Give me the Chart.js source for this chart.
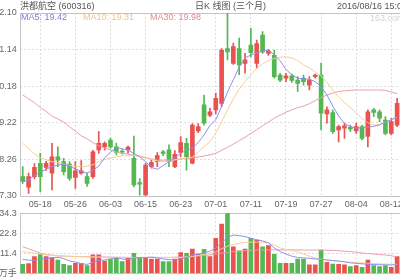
<!DOCTYPE html>
<html>
<head>
<meta charset="utf-8">
<script src="https://cdn.jsdelivr.net/npm/chart.js@4.4.1/dist/chart.umd.min.js"></script>
<style>
  body { margin: 0; width: 400px; height: 280px; overflow: hidden; position: relative; background: #fff;
         font-family: "Liberation Sans", Arial, "Noto Sans CJK SC", sans-serif; }
  canvas { position: absolute; left: -10px; }
  #price { top: 0; }
  #volume { top: 205px; }
  .txt { position: absolute; font-size: 9px; line-height: 11px; white-space: nowrap; color: #555; }
</style>
</head>
<body>
<canvas id="price" width="420" height="210"></canvas>
<canvas id="volume" width="420" height="75"></canvas>
<div class="txt" style="left:20px;top:1px">洪都航空 (600316)</div>
<div class="txt" style="left:195px;top:1px">日K 线图 (三个月)</div>
<div class="txt" style="left:337px;top:1px">2016/08/16 15:00</div>
<div class="txt" id="lg5" style="left:21px;top:12px"></div>
<div class="txt" id="lg10" style="left:83px;top:12px"></div>
<div class="txt" id="lg30" style="left:150px;top:12px"></div>
<div class="txt" style="left:370px;top:13px;color:#d4d4d4">163.com</div>
<script>
const dates = ['05-13', '05-16', '05-17', '05-18', '05-19', '05-20', '05-23', '05-24', '05-25', '05-26',
  '05-27', '05-30', '05-31', '06-01', '06-02', '06-03', '06-06', '06-07', '06-08', '06-13',
  '06-14', '06-15', '06-16', '06-17', '06-20', '06-21', '06-22', '06-23', '06-24', '06-27',
  '06-28', '06-29', '06-30', '07-01', '07-04', '07-05', '07-06', '07-07', '07-08', '07-11',
  '07-12', '07-13', '07-14', '07-15', '07-18', '07-19', '07-20', '07-21', '07-22', '07-25',
  '07-26', '07-27', '07-28', '07-29', '08-01', '08-02', '08-03', '08-04', '08-05', '08-08',
  '08-09', '08-10', '08-11', '08-12', '08-15'];

const opens = [17.81, 17.53, 17.81, 18.16, 18.05, 17.90, 18.33, 18.20, 18.14, 17.79,
  17.90, 17.81, 17.81, 18.51, 18.59, 18.77, 18.59, 18.47, 18.51, 18.29,
  17.65, 17.33, 18.07, 18.20, 18.46, 18.51, 18.07, 18.44, 18.68, 18.16,
  19.01, 19.69, 19.42, 19.56, 19.73, 21.17, 20.78, 21.17, 20.78, 21.26,
  20.78, 21.52, 21.04, 20.99, 20.47, 20.39, 20.45, 20.34, 20.39, 20.21,
  20.43, 20.47, 19.45, 19.49, 19.03, 19.08, 19.10, 19.01, 19.12, 18.86,
  19.56, 19.51, 19.29, 18.94, 19.16];
const highs = [18.07, 17.90, 18.15, 18.42, 18.21, 18.68, 18.59, 18.29, 18.20, 18.20,
  18.23, 17.90, 18.50, 18.99, 18.72, 18.82, 18.68, 18.52, 18.61, 18.87,
  17.76, 18.16, 18.25, 18.44, 18.50, 18.64, 18.49, 18.86, 18.81, 19.20,
  19.20, 19.95, 19.60, 20.00, 21.17, 22.10, 21.31, 21.44, 21.04, 21.70,
  21.39, 21.61, 21.15, 21.13, 20.52, 20.52, 20.50, 20.43, 20.47, 20.43,
  20.50, 20.78, 19.64, 19.56, 19.16, 19.21, 19.16, 19.21, 19.16, 19.56,
  19.60, 19.56, 19.38, 19.34, 19.86];
const lows = [17.63, 17.37, 17.75, 17.41, 17.97, 17.46, 18.07, 17.85, 17.71, 17.50,
  17.87, 17.55, 17.76, 18.42, 18.50, 18.55, 18.38, 18.40, 18.42, 17.54,
  17.32, 17.30, 18.03, 18.07, 18.36, 18.07, 18.04, 18.33, 17.98, 18.14,
  18.96, 19.16, 19.38, 19.45, 19.64, 20.87, 20.75, 20.48, 20.52, 20.95,
  20.65, 21.04, 20.99, 20.39, 20.30, 20.30, 20.28, 20.04, 20.21, 20.08,
  20.39, 19.03, 19.21, 18.94, 18.72, 18.81, 18.99, 18.94, 18.77, 18.59,
  19.38, 19.25, 18.90, 18.90, 19.12];
const closes = [17.68, 17.81, 18.05, 17.81, 18.16, 18.33, 18.24, 17.94, 17.76, 17.96,
  17.96, 17.63, 18.46, 18.68, 18.68, 18.59, 18.44, 18.45, 18.58, 17.59,
  17.61, 18.11, 18.18, 18.36, 18.42, 18.20, 18.39, 18.70, 18.33, 19.16,
  19.12, 19.21, 19.51, 19.86, 21.13, 21.08, 21.22, 20.74, 20.87, 21.06,
  21.30, 21.08, 21.10, 20.43, 20.34, 20.45, 20.33, 20.25, 20.30, 20.34,
  20.47, 19.47, 19.56, 18.99, 19.12, 19.14, 19.05, 19.12, 18.81, 19.51,
  19.49, 19.34, 18.94, 19.25, 19.73];

const ma5 = [17.68, 17.72, 17.84, 17.93, 18.00, 18.07, 18.11, 18.14, 18.08, 18.01,
  17.95, 17.90, 17.98, 18.08, 18.30, 18.45, 18.57, 18.54, 18.50, 18.42,
  18.33, 18.20, 18.05, 18.00, 18.10, 18.20, 18.30, 18.42, 18.50, 18.55,
  18.70, 18.90, 19.15, 19.30, 19.65, 20.02, 20.35, 20.68, 20.92, 21.00,
  21.05, 21.10, 21.13, 21.00, 20.85, 20.62, 20.48, 20.39, 20.37, 20.36,
  20.30, 20.17, 19.95, 19.66, 19.40, 19.20, 19.12, 19.08, 19.09, 19.10,
  19.13, 19.16, 19.24, 19.30, 19.37];
const ma10 = [18.68, 18.55, 18.40, 18.30, 18.25, 18.20, 18.18, 18.14, 18.10, 18.08,
  18.07, 18.08, 18.12, 18.20, 18.26, 18.30, 18.33, 18.35, 18.36, 18.36,
  18.35, 18.32, 18.26, 18.22, 18.20, 18.21, 18.25, 18.28, 18.30, 18.32,
  18.45, 18.60, 18.72, 18.95, 19.25, 19.56, 19.85, 20.10, 20.30, 20.48,
  20.65, 20.76, 20.85, 20.91, 20.94, 20.95, 20.92, 20.85, 20.74, 20.66,
  20.55, 20.45, 20.28, 20.08, 19.90, 19.75, 19.62, 19.48, 19.33, 19.22,
  19.16, 19.18, 19.24, 19.30, 19.36];
const ma30 = [19.95, 19.85, 19.75, 19.62, 19.52, 19.40, 19.32, 19.24, 19.12, 19.00,
  18.88, 18.80, 18.70, 18.62, 18.56, 18.51, 18.45, 18.42, 18.40, 18.37,
  18.34, 18.30, 18.27, 18.24, 18.24, 18.24, 18.25, 18.27, 18.28, 18.30,
  18.32, 18.35, 18.38, 18.42, 18.50, 18.58, 18.66, 18.75, 18.84, 18.94,
  19.04, 19.14, 19.24, 19.34, 19.42, 19.50, 19.56, 19.62, 19.66, 19.72,
  19.80, 19.88, 19.95, 20.00, 20.04, 20.06, 20.07, 20.08, 20.08, 20.08,
  20.08, 20.08, 20.07, 20.03, 19.98];

// volume in 万手
const volumes = [5.1, 5.5, 9.5, 10.9, 9.5, 9.0, 7.6, 5.1, 4.4, 5.7,
  5.7, 4.4, 10.5, 10.5, 7.0, 8.2, 8.6, 6.7, 9.0, 11.4,
  9.0, 9.0, 8.2, 8.2, 6.7, 6.7, 8.2, 11.8, 11.4, 13.9,
  11.0, 13.7, 9.5, 20.0, 28.2, 34.3, 15.2, 12.8, 13.9, 20.0,
  19.0, 15.2, 15.8, 10.9, 5.7, 5.7, 5.7, 8.2, 8.2, 4.8,
  4.8, 13.3, 6.3, 5.3, 5.1, 4.8, 3.8, 4.4, 3.4, 7.6,
  4.4, 3.8, 4.4, 3.4, 9.5];
const volMa5 = [8.0, 7.5, 7.5, 8.0, 8.5, 8.8, 9.2, 8.4, 7.1, 6.4,
  5.5, 5.1, 6.2, 7.4, 7.6, 8.1, 8.9, 8.2, 7.9, 8.8,
  9.0, 9.0, 9.3, 8.8, 8.2, 7.8, 7.6, 8.3, 9.0, 10.5,
  11.0, 11.6, 12.6, 14.5, 17.5, 20.5, 21.9, 21.5, 21.0, 20.0,
  19.2, 18.5, 17.5, 14.5, 12.4, 11.0, 9.8, 9.0, 8.8, 8.6,
  8.2, 8.0, 7.6, 7.3, 7.0, 6.6, 6.0, 5.7, 5.4, 5.2,
  5.0, 4.9, 4.8, 4.8, 4.9];
const volMa10 = [12.4, 12.0, 11.5, 11.0, 10.6, 10.3, 10.0, 9.8, 9.7, 9.6,
  9.5, 9.4, 9.3, 9.2, 9.1, 9.0, 9.0, 9.0, 9.0, 9.0,
  9.0, 9.0, 9.0, 9.0, 9.0, 9.0, 9.0, 9.1, 9.3, 9.6,
  10.2, 10.8, 11.3, 12.3, 14.0, 15.5, 16.5, 17.2, 17.6, 17.8,
  17.8, 17.7, 17.4, 16.2, 14.5, 13.6, 13.0, 12.4, 11.0, 9.8,
  8.8, 8.0, 7.6, 7.2, 6.8, 6.5, 6.3, 6.1, 5.9, 5.7,
  5.6, 5.4, 5.3, 5.2, 5.1];
const volMa30 = [15.2, 14.0, 12.8, 11.6, 10.7, 10.3, 10.0, 9.8, 9.7, 9.6,
  9.5, 9.5, 9.4, 9.4, 9.3, 9.3, 9.2, 9.2, 9.1, 9.1,
  9.1, 9.1, 9.1, 9.1, 9.1, 9.1, 9.2, 9.3, 9.4, 9.6,
  9.9, 10.2, 10.5, 11.0, 11.5, 12.0, 12.4, 12.7, 13.0, 13.2,
  13.3, 13.4, 13.4, 13.4, 13.4, 13.4, 13.4, 13.4, 13.3, 13.3,
  13.3, 13.3, 13.2, 13.1, 12.9, 12.6, 12.4, 12.0, 11.6, 11.3,
  11.0, 10.7, 10.5, 10.0, 9.5];

const priceTicks = [17.30, 18.26, 19.22, 20.18, 21.14, 22.10];
const volumeTicks = [0, 11.4, 22.8, 34.3];
const maNames = ['MA5', 'MA10', 'MA30'];
const maLast = [19.42, 19.31, 19.98];

const RED = '#e9524f';
const GREEN = '#52b852';
const MA_COLORS = ['#8f8ff0', '#f5cf97', '#e7a1ab'];
const LEGEND_COLORS = ['#7f7fd8', '#f0c585', '#dc8f8f'];
const GRID = '#dddddd';
const FRAME = '#c4c4c4';
const TICK_FONT = { family: '"Liberation Sans", Arial, "Noto Sans CJK SC"', size: 9 };

const candleColors = closes.map((c, i) => (c >= opens[i] ? RED : GREEN));

['lg5', 'lg10', 'lg30'].forEach((id, i) => {
  const el = document.getElementById(id);
  el.textContent = maNames[i] + ': ' + maLast[i].toFixed(2);
  el.style.color = LEGEND_COLORS[i];
});

const frame = {
  id: 'frame',
  beforeDatasetsDraw(chart) {
    const { ctx, chartArea: a } = chart;
    ctx.save();
    ctx.strokeStyle = FRAME;
    ctx.lineWidth = 1;
    ctx.strokeRect(Math.round(a.left) + 0.5, Math.round(a.top) + 0.5,
      Math.round(a.right - a.left), Math.round(a.bottom - a.top));
    ctx.restore();
  },
};

function maLine(label, data, color) {
  return { type: 'line', label, data, borderColor: color, borderWidth: 1,
    pointRadius: 0, tension: 0, order: 0 };
}

function xScale(showLabels) {
  return {
    grid: { offset: false, drawTicks: false,
      color: (ctx) => ((ctx.index - 3) % 6 === 0 ? GRID : 'rgba(0,0,0,0)') },
    border: { display: false, dash: [2, 2] },
    ticks: { display: showLabels, autoSkip: false, maxRotation: 0, minRotation: 0, padding: 3,
      color: '#666', font: TICK_FONT,
      callback: (v, i) => ((i - 3) % 6 === 0 ? dates[i] : '') },
    afterFit: (s) => { s.height = showLabels ? 14 : 0; s.paddingLeft = 0; s.paddingRight = 0; },
  };
}

function yScale(min, max, ticks, fmt) {
  return {
    min, max,
    afterBuildTicks: (s) => { s.ticks = ticks.map((v) => ({ value: v })); },
    grid: { drawTicks: false, color: GRID },
    border: { display: false, dash: [2, 2] },
    ticks: { padding: 3, color: '#666', font: TICK_FONT, callback: fmt },
    afterFit: (s) => { s.width = 29.8; s.paddingTop = 0; s.paddingBottom = 0; },
  };
}

new Chart(document.getElementById('price'), {
  type: 'bar',
  data: {
    labels: dates,
    datasets: [
      maLine('MA5', ma5, MA_COLORS[0]),
      maLine('MA10', ma10, MA_COLORS[1]),
      maLine('MA30', ma30, MA_COLORS[2]),
      { label: 'body', data: opens.map((o, i) => [o, closes[i]]), backgroundColor: candleColors,
        barThickness: 4, minBarLength: 1, grouped: false, order: 1 },
      { label: 'wick', data: lows.map((l, i) => [l, highs[i]]), backgroundColor: candleColors,
        barThickness: 1, grouped: false, order: 2 },
    ],
  },
  options: {
    responsive: false,
    animation: false,
    layout: { padding: { top: 13, right: 9.95, left: 0, bottom: 0 } },
    plugins: { legend: { display: false }, tooltip: { enabled: false } },
    scales: {
      x: xScale(true),
      y: yScale(17.30, 22.10, priceTicks, (v) => v.toFixed(2)),
    },
  },
  plugins: [frame],
});

new Chart(document.getElementById('volume'), {
  type: 'bar',
  data: {
    labels: dates,
    datasets: [
      maLine('MA5', volMa5, MA_COLORS[0]),
      maLine('MA10', volMa10, MA_COLORS[1]),
      maLine('MA30', volMa30, MA_COLORS[2]),
      { label: 'volume', data: volumes, backgroundColor: candleColors, barThickness: 4, order: 1 },
    ],
  },
  options: {
    responsive: false,
    animation: false,
    layout: { padding: { top: 8.3, right: 9.95, left: 0, bottom: 6.7 } },
    plugins: { legend: { display: false }, tooltip: { enabled: false } },
    scales: {
      x: xScale(false),
      y: yScale(0, 34.3, volumeTicks, (v) => (v === 0 ? '万手' : v.toFixed(1))),
    },
  },
  plugins: [frame],
});
</script>
</body>
</html>
